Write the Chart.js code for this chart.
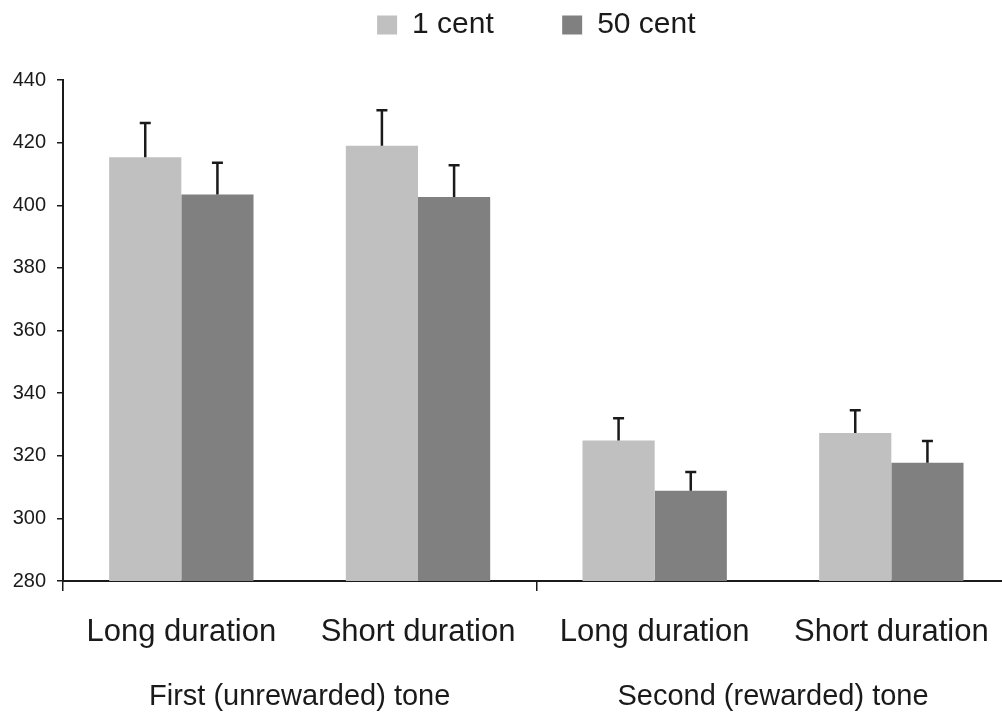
<!DOCTYPE html>
<html>
<head>
<meta charset="utf-8">
<script src="https://cdn.jsdelivr.net/npm/chart.js@4.4.0/dist/chart.umd.min.js"></script>
<style>
  html, body { margin: 0; padding: 0; overflow: hidden; background: #fff; }
</style>
</head>
<body>
<canvas id="chart" width="1012" height="713"></canvas>
<script>
// data
var categories = ['Long duration', 'Short duration', 'Long duration', 'Short duration'];
var groups = ['First (unrewarded) tone', 'Second (rewarded) tone'];
var seriesNames = ['1 cent', '50 cent'];
var oneCent = [415.3, 419.0, 324.9, 327.3];
var fiftyCent = [403.4, 402.6, 308.8, 317.8];
// upper error bar lengths
var oneCentErr = [11.0, 11.3, 7.1, 7.2];
var fiftyCentErr = [10.2, 10.2, 6.0, 6.9];
var yTicks = [280, 300, 320, 340, 360, 380, 400, 420, 440];

var errors = [oneCentErr, fiftyCentErr];
var ink = '#1a1a1a';
var font = 'Liberation Sans, Arial, sans-serif';

// push the plot down below the legend
var legendSpacer = {
  id: 'legendSpacer',
  beforeInit: function (chart) {
    var fit = chart.legend.fit;
    chart.legend.fit = function () {
      fit.call(this);
      this.height += 30;
    };
  }
};

// upward-only error bars
var errorBars = {
  id: 'errorBars',
  afterDatasetsDraw: function (chart) {
    var ctx = chart.ctx;
    var y = chart.scales.y;
    ctx.save();
    ctx.strokeStyle = ink;
    ctx.lineWidth = 2.5;
    chart.data.datasets.forEach(function (ds, i) {
      chart.getDatasetMeta(i).data.forEach(function (bar, j) {
        var top = y.getPixelForValue(ds.data[j] + errors[i][j]);
        ctx.beginPath();
        ctx.moveTo(bar.x, bar.y);
        ctx.lineTo(bar.x, top);
        ctx.moveTo(bar.x - 5.5, top);
        ctx.lineTo(bar.x + 5.5, top);
        ctx.stroke();
      });
    });
    ctx.restore();
  }
};

var ctx = document.getElementById('chart').getContext('2d');
var chart = new Chart(ctx, {
  type: 'bar',
  data: {
    labels: categories,
    datasets: [{
      label: seriesNames[0],
      data: oneCent,
      backgroundColor: '#c0c0c0',
      categoryPercentage: 0.61,
      barPercentage: 1.0
    }, {
      label: seriesNames[1],
      data: fiftyCent,
      backgroundColor: '#808080',
      categoryPercentage: 0.61,
      barPercentage: 1.0
    }]
  },
  plugins: [legendSpacer, errorBars],
  options: {
    responsive: false,
    animation: false,
    layout: { padding: 0 },
    plugins: {
      tooltip: { enabled: false },
      legend: {
        display: true,
        position: 'top',
        fullSize: false,
        labels: {
          color: ink,
          font: { family: font, size: 30 },
          boxWidth: 20,
          boxHeight: 19,
          padding: 10,
          generateLabels: function (chart) {
            var items = Chart.defaults.plugins.legend.labels.generateLabels(chart);
            return items.map(function (item, i) {
              if (i < items.length - 1) item.text = item.text + '\u00a0\u00a0\u00a0\u00a0\u00a0\u00a0\u00a0';
              item.lineWidth = 0;
              return item;
            });
          }
        }
      }
    },
    scales: {
      y: {
        min: 280,
        max: 440,
        z: 1,
        afterFit: function (s) { s.width = 63; },
        afterBuildTicks: function (s) {
          s.ticks = yTicks.map(function (v) { return { value: v }; });
        },
        border: { display: true, color: ink, width: 2 },
        grid: { drawOnChartArea: false, drawTicks: true, tickLength: 6, color: ink, lineWidth: 1.5 },
        ticks: { color: ink, padding: 11, font: { family: font, size: 20 } }
      },
      x: {
        weight: 1,
        z: 1,
        afterFit: function (s) { s.height = 75; },
        border: { display: true, color: ink, width: 2 },
        grid: {
          offset: true,
          drawOnChartArea: false,
          drawTicks: true,
          tickLength: 10,
          lineWidth: 1.5,
          color: function (c) { return (c.index === 0 || c.index === 2) ? ink : 'rgba(0,0,0,0)'; }
        },
        ticks: { color: ink, padding: 23, maxRotation: 0, autoSkip: false, font: { family: font, size: 31 } }
      },
      x2: {
        type: 'category',
        position: 'bottom',
        weight: 2,
        labels: groups,
        offset: true,
        afterFit: function (s) { s.height = 57; },
        border: { display: false },
        grid: { display: false, drawTicks: false },
        ticks: { color: ink, padding: 24, maxRotation: 0, autoSkip: false, font: { family: font, size: 29 } }
      }
    }
  }
});
</script>
</body>
</html>
